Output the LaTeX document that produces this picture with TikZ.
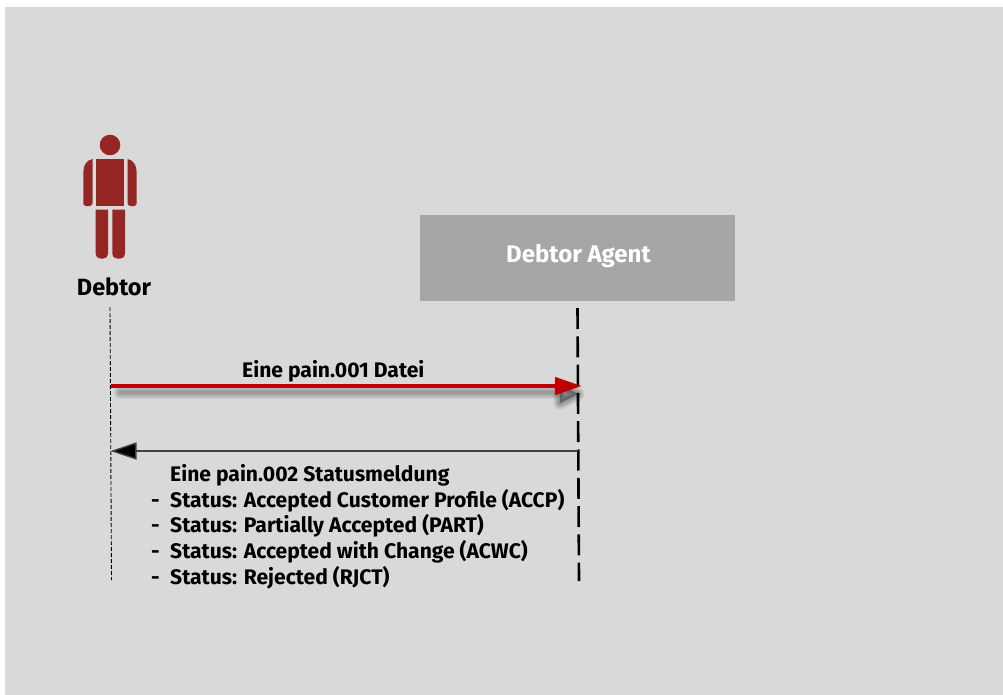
\documentclass[tikz,border=0pt]{standalone}
\usepackage{fontspec}
\setmainfont{Fira Sans}[BoldFont={Fira Sans Bold}]
\usetikzlibrary{arrows.meta}
\definecolor{panel}{HTML}{D9D9D9}
\definecolor{agentbox}{HTML}{A6A6A6}
\definecolor{person}{HTML}{962624}
\definecolor{redline}{HTML}{C00000}
\tikzset{
  figpart/.style={fill=person,draw=none},
  lbl/.style={font=\bfseries\fontsize{21.1}{24}\selectfont,text=black,inner sep=0pt,anchor=base west},
}
\begin{document}
\begin{tikzpicture}[x=1pt,y=-1pt,line join=miter]
\useasboundingbox (0,0) rectangle (1003,695);
\fill[white] (0,0) rectangle (1003,695);
\fill[panel] (5,7) rectangle (1003,695);
% person
\fill[figpart] (110,145) circle (10.3);
\fill[figpart] (95.7,159) rectangle (124,206);
\fill[figpart] (92.5,159) -- (92.5,203) arc[start angle=0,end angle=90,radius=3] -- (86,206) arc[start angle=90,end angle=180,radius=2.7] -- (83.3,172) .. controls (83.3,165) and (87,160) .. (92.5,159) -- cycle;
\fill[figpart] (127.5,159) -- (127.5,203) arc[start angle=180,end angle=90,radius=3] -- (134,206) arc[start angle=90,end angle=0,radius=2.7] -- (136.7,172) .. controls (136.7,165) and (133,160) .. (127.5,159) -- cycle;
\fill[figpart] (95.7,209.5) -- (108,209.5) -- (108,254) arc[start angle=0,end angle=90,radius=4.5] -- (100.2,258.5) arc[start angle=90,end angle=180,radius=4.5] -- cycle;
\fill[figpart] (112.3,209.5) -- (125,209.5) -- (125,254) arc[start angle=0,end angle=90,radius=4.5] -- (116.8,258.5) arc[start angle=90,end angle=180,radius=4.5] -- cycle;
\node[font=\bfseries\fontsize{23.5}{26}\selectfont,inner sep=0pt] (debtor) at (114,287) {Debtor};
% agent
\fill[agentbox] (420,215) rectangle (735,301);
\node[text=white,font=\bfseries\fontsize{24}{28}\selectfont,inner sep=0pt] (agent) at (578.5,256) {Debtor Agent};
% lifelines
\coordinate (dtop) at (110,307);
\coordinate (dbot) at (111.5,580);
\coordinate (atop) at (577.5,308);
\coordinate (abot) at (579,581);
\coordinate (r1) at (111,386);
\coordinate (r2) at (582,386);
\coordinate (b1) at (578,451);
\coordinate (b2) at (110.5,451);
\draw[black,line width=0.9pt,dash pattern=on 4pt off 2pt] (dtop) -- (dbot);
\draw[black,line width=2.6pt,dash pattern=on 21pt off 7.3pt] (atop) -- (abot);
% soft shadow of red arrow
\foreach \w in {13,11,9,7,5,3}{
  \draw[black,opacity=0.05,line width=\w pt,line cap=round] (120,392.5) -- (556,392.5);
  \draw[black,opacity=0.06,line width=\w pt,line join=round,fill=black] (560,385) -- (578,394) -- (560,403) -- cycle;
}
% arrows
\draw[redline,line width=4.2pt,-{Triangle[length=27pt,width=17pt,fill=redline]}] (r1) -- (r2);
\draw[black!75,line width=1.4pt,-{Triangle[length=26pt,width=17pt,fill=black]}] (b1) -- (b2);
% labels
\node[lbl] (t1) at (242,377.5) {Eine pain.001 Datei};
\node[lbl] (t2) at (170,481) {Eine pain.002 Statusmeldung};
\node[lbl] (d3) at (151,507) {-};
\node[lbl] (t3) at (170,507) {Status: Accepted Customer Profile (ACCP)};
\node[lbl] (d4) at (151,532) {-};
\node[lbl] (t4) at (170,532) {Status: Partially Accepted (PART)};
\node[lbl] (d5) at (151,558) {-};
\node[lbl] (t5) at (170,558) {Status: Accepted with Change (ACWC)};
\node[lbl] (d6) at (151,584) {-};
\node[lbl] (t6) at (170,584) {Status: Rejected (RJCT)};
\end{tikzpicture}
\end{document}
